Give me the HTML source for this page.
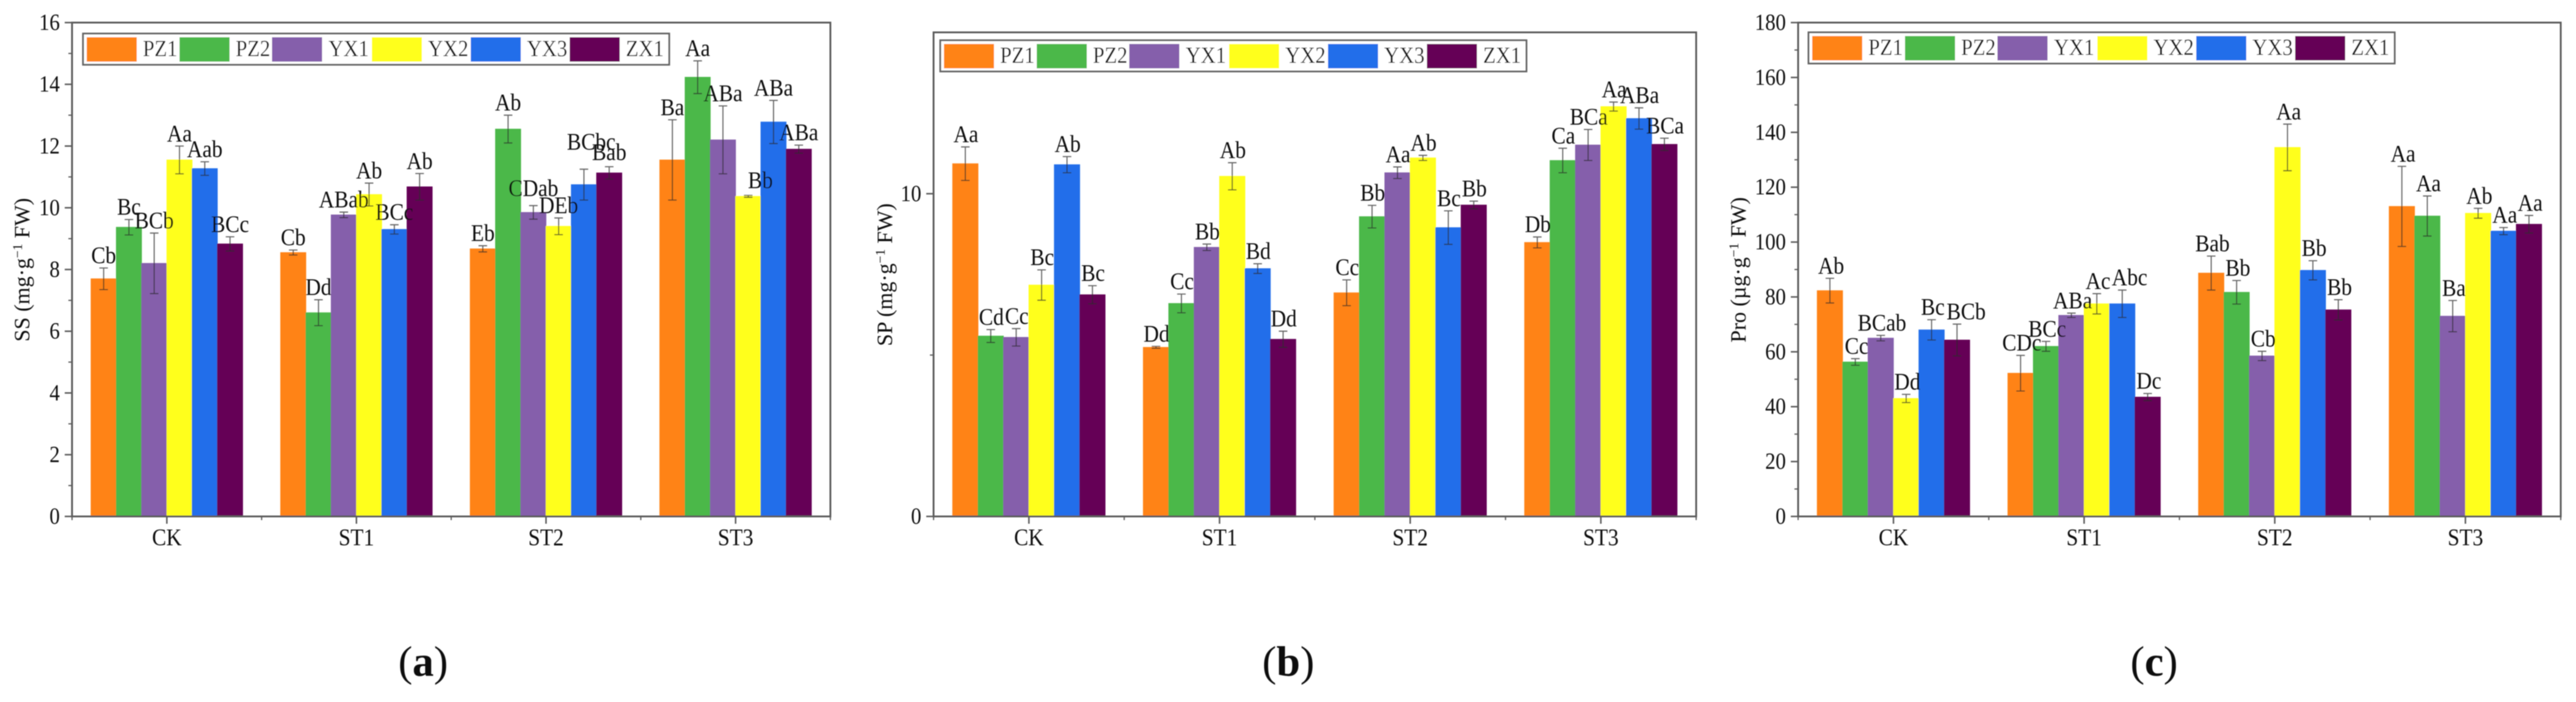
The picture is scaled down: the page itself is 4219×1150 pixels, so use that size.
<!DOCTYPE html>
<html lang="en">
<head>
<meta charset="utf-8">
<title>SS, SP and Pro content bar charts</title>
<style>
html,body{margin:0;padding:0;background:#fff;}
svg{display:block;}
text{font-family:"Liberation Serif",serif;fill:#111;}
</style>
</head>
<body>
<svg id="figure" xmlns="http://www.w3.org/2000/svg" width="4219" height="1150" viewBox="0 0 4219 1150">
<defs><filter id="soft" x="-2%" y="-2%" width="104%" height="104%"><feGaussianBlur stdDeviation="0.7"/></filter></defs>
<rect x="0" y="0" width="4219" height="1150" fill="#fff"/>
<g id="root" filter="url(#soft)"></g>
</svg>
<script>
const categories = ["CK", "ST1", "ST2", "ST3"];
const seriesNames = ["PZ1", "PZ2", "YX1", "YX2", "YX3", "ZX1"];
const seriesColors = ["#ff8315", "#4bb84a", "#855fab", "#ffff1a", "#246eea", "#650057"];

const ssTicks = [0, 2, 4, 6, 8, 10, 12, 14, 16];
const ssMinorTicks = [1, 3, 5, 7, 9, 11, 13, 15];
const ssMax = 16;
const ssPZ1 = [7.7, 8.55, 8.67, 11.55];
const ssPZ2 = [9.37, 6.6, 12.55, 14.23];
const ssYX1 = [8.2, 9.77, 9.85, 12.2];
const ssYX2 = [11.55, 10.43, 9.4, 10.37];
const ssYX3 = [11.27, 9.3, 10.75, 12.78];
const ssZX1 = [8.83, 10.68, 11.13, 11.9];
const ssErrPZ1 = [0.35, 0.08, 0.1, 1.3];
const ssErrPZ2 = [0.25, 0.42, 0.45, 0.53];
const ssErrYX1 = [0.98, 0.09, 0.22, 1.1];
const ssErrYX2 = [0.45, 0.37, 0.27, 0.03];
const ssErrYX3 = [0.22, 0.15, 0.5, 0.7];
const ssErrZX1 = [0.23, 0.43, 0.2, 0.13];
const ssLabPZ1 = ["Cb", "Cb", "Eb", "Ba"];
const ssLabPZ2 = ["Bc", "Dd", "Ab", "Aa"];
const ssLabYX1 = ["BCb", "ABab", "CDab", "ABa"];
const ssLabYX2 = ["Aa", "Ab", "DEb", "Bb"];
const ssLabYX3 = ["Aab", "BCc", "BCbc", "ABa"];
const ssLabZX1 = ["BCc", "Ab", "Bab", "ABa"];

const spTicks = [0, 10];
const spMinorTicks = [5];
const spMax = 15;
const spPZ1 = [10.93, 5.24, 6.93, 8.49];
const spPZ2 = [5.59, 6.6, 9.29, 11.03];
const spYX1 = [5.55, 8.34, 10.65, 11.51];
const spYX2 = [7.17, 10.54, 11.11, 12.7];
const spYX3 = [10.9, 7.68, 8.95, 12.33];
const spZX1 = [6.87, 5.49, 9.65, 11.53];
const spErrPZ1 = [0.52, 0.03, 0.4, 0.17];
const spErrPZ2 = [0.2, 0.29, 0.35, 0.38];
const spErrYX1 = [0.27, 0.1, 0.18, 0.48];
const spErrYX2 = [0.47, 0.42, 0.08, 0.14];
const spErrYX3 = [0.25, 0.15, 0.52, 0.33];
const spErrZX1 = [0.28, 0.25, 0.12, 0.19];
const spLabPZ1 = ["Aa", "Dd", "Cc", "Db"];
const spLabPZ2 = ["Cd", "Cc", "Bb", "Ca"];
const spLabYX1 = ["Cc", "Bb", "Aa", "BCa"];
const spLabYX2 = ["Bc", "Ab", "Ab", "Aa"];
const spLabYX3 = ["Ab", "Bd", "Bc", "ABa"];
const spLabZX1 = ["Bc", "Dd", "Bb", "BCa"];

const proTicks = [0, 20, 40, 60, 80, 100, 120, 140, 160, 180];
const proMinorTicks = [10, 30, 50, 70, 90, 110, 130, 150, 170];
const proMax = 180;
const proPZ1 = [82.3, 52.2, 88.7, 113];
const proPZ2 = [56.3, 62, 81.7, 109.5];
const proYX1 = [65, 73.3, 58.5, 73];
const proYX2 = [43, 77.5, 134.5, 110.5];
const proYX3 = [68, 77.5, 89.7, 104];
const proZX1 = [64.3, 43.5, 75.3, 106.5];
const proErrPZ1 = [4.5, 6.5, 6.2, 14.6];
const proErrPZ2 = [1.2, 1.8, 4.3, 7.3];
const proErrYX1 = [1, 0.8, 1.7, 5.7];
const proErrYX2 = [1.5, 3.7, 8.5, 1.8];
const proErrYX3 = [3.7, 5, 3.5, 1.3];
const proErrZX1 = [5.8, 1.3, 3.7, 3.2];
const proLabPZ1 = ["Ab", "CDc", "Bab", "Aa"];
const proLabPZ2 = ["Cc", "BCc", "Bb", "Aa"];
const proLabYX1 = ["BCab", "ABa", "Cb", "Ba"];
const proLabYX2 = ["Dd", "Ac", "Aa", "Ab"];
const proLabYX3 = ["Bc", "Abc", "Bb", "Aa"];
const proLabZX1 = ["BCb", "Dc", "Bb", "Aa"];

const SVGNS = "http://www.w3.org/2000/svg";
const root = document.getElementById("root");
function mk(tag, attrs, parent) {
  const el = document.createElementNS(SVGNS, tag);
  for (const k in attrs) el.setAttribute(k, attrs[k]);
  parent.appendChild(el);
  return el;
}
function tall(x, y) { return "translate(" + x + "," + y + ") scale(1,1.12)"; }
function legendEntryX(i) { return [6, 158, 309.5, 473, 635, 797][i]; }
function legendTextX(i) { return [98, 250, 402, 565, 727, 889][i]; }

function drawChart(cfg) {
  const g = mk("g", {}, root);
  
  
  const catW = (cfg.right - cfg.left) / categories.length;
  const barW = catW * 0.8 / seriesNames.length;
  const xCat = i => cfg.left + catW * (i + 0.5);
  const yVal = v => cfg.bottom - (cfg.bottom - cfg.top) * v / cfg.max;

  const axisColor = "#5c5c5c";
  const bars = mk("g", {}, g);
  
  
  const labels = mk("g", {}, g);
  
  

  cfg.means.forEach((vals, s) => {
    vals.forEach((v, c) => {
      const x = xCat(c) - catW * 0.4 + s * barW;
      const top = yVal(v);
      const bar = mk("rect", {x: x, y: top, width: barW, height: cfg.bottom - top,
        fill: seriesColors[s], stroke: seriesColors[s], "stroke-width": 1}, bars);
      
      
    });
  });
  cfg.means.forEach((vals, s) => {
    vals.forEach((v, c) => {
      const x = xCat(c) - catW * 0.4 + s * barW + barW / 2;
      const e = cfg.errs[s][c];
      const hi = yVal(v + e), lo = yVal(v - e);
      const err = mk("path", {d: "M" + x + " " + hi + "V" + lo + "M" + (x - 7) + " " + hi + "H" + (x + 7) + "M" + (x - 7) + " " + lo + "H" + (x + 7),
        fill: "none", stroke: "#2a2a2a", "stroke-opacity": 0.72, "stroke-width": 1.8}, bars);
      
      
      const nudge = (cfg.nudges[s + "-" + c]) || [0, 0];
      const lab = mk("text", {transform: tall(x + cfg.labelDx + nudge[0], hi - 8 + nudge[1]), "text-anchor": "middle", "font-size": 35}, labels);
      lab.textContent = cfg.labs[s][c];
      
      
    });
  });

  const frame = mk("rect", {x: cfg.left, y: cfg.top, width: cfg.right - cfg.left, height: cfg.bottom - cfg.top,
    fill: "none", stroke: axisColor, "stroke-width": 3}, g);
  
  

  const yAxis = mk("g", {}, g);
  
  
  cfg.ticks.forEach(t => {
    const y = yVal(t);
    const tick = mk("line", {x1: cfg.left - 12, x2: cfg.left, y1: y, y2: y, stroke: axisColor, "stroke-width": 2.5}, yAxis);
    
    
    const lab = mk("text", {transform: tall(cfg.left - 20, y + 12), "text-anchor": "end", "font-size": 34}, yAxis);
    lab.textContent = t;
    
    
  });
  cfg.minor.forEach(t => {
    const y = yVal(t);
    const tick = mk("line", {x1: cfg.left - 6, x2: cfg.left, y1: y, y2: y, stroke: axisColor, "stroke-width": 2}, yAxis);
    
    
  });

  const xAxis = mk("g", {}, g);
  
  
  categories.forEach((name, i) => {
    const x = xCat(i);
    const tick = mk("line", {x1: x, x2: x, y1: cfg.bottom, y2: cfg.bottom + 12, stroke: axisColor, "stroke-width": 2.5}, xAxis);
    
    
    const lab = mk("text", {transform: tall(x, 893), "text-anchor": "middle", "font-size": 35}, xAxis);
    lab.textContent = name;
    
    
  });
  for (let i = 0; i <= categories.length; i++) {
    const x = cfg.left + catW * i;
    const tick = mk("line", {x1: x, x2: x, y1: cfg.bottom, y2: cfg.bottom + 6, stroke: axisColor, "stroke-width": 2}, xAxis);
    
    
  }

  const title = mk("text", {"text-anchor": "middle", "font-size": 36,
    transform: "translate(" + cfg.titleX + "," + cfg.titleY + ") rotate(-90)"}, g);
  
  
  mk("tspan", {}, title).textContent = cfg.title + " (" + cfg.unit + "\u00b7g";
  mk("tspan", {dy: -12, "font-size": 22}, title).textContent = "\u22121";
  mk("tspan", {dy: 12}, title).textContent = " FW)";

  const leg = mk("g", {transform: "translate(" + cfg.legX + "," + cfg.legY + ")"}, g);
  
  
  const box = mk("rect", {x: 0, y: 0, width: 960, height: 51, fill: "#fff", stroke: "#666", "stroke-width": 3}, leg);
  
  
  seriesNames.forEach((name, i) => {
    const sw = mk("rect", {x: legendEntryX(i), y: 6, width: 82, height: 40, fill: seriesColors[i]}, leg);
    
    
    const tx = mk("text", {transform: tall(legendTextX(i), 37), "font-size": 34}, leg);
    tx.textContent = name;
    
    
  });

  const pan = mk("text", {x: cfg.panelX, y: 1107, "text-anchor": "middle", "font-size": 70}, g);
  
  
  mk("tspan", {}, pan).textContent = "(";
  mk("tspan", {"font-weight": "bold"}, pan).textContent = cfg.panel;
  mk("tspan", {}, pan).textContent = ")";
}

drawChart({
  id: "ss", title: "SS", unit: "mg", left: 118, right: 1360, top: 37, bottom: 846, max: ssMax,
  ticks: ssTicks, minor: ssMinorTicks,
  means: [ssPZ1, ssPZ2, ssYX1, ssYX2, ssYX3, ssZX1],
  errs: [ssErrPZ1, ssErrPZ2, ssErrYX1, ssErrYX2, ssErrYX3, ssErrZX1],
  labs: [ssLabPZ1, ssLabPZ2, ssLabYX1, ssLabYX2, ssLabYX3, ssLabZX1],
  nudges: {"4-2": [12, -24], "3-3": [20, -4], "2-2": [0, -8], "5-2": [0, -3]},
  labelDx: 0, titleX: 48, titleY: 442, legX: 136, legY: 55, panelX: 693, panel: "a"
});
drawChart({
  id: "sp", title: "SP", unit: "mg", left: 1529, right: 2778, top: 53, bottom: 846, max: spMax,
  ticks: spTicks, minor: spMinorTicks,
  means: [spPZ1, spPZ2, spYX1, spYX2, spYX3, spZX1],
  errs: [spErrPZ1, spErrPZ2, spErrYX1, spErrYX2, spErrYX3, spErrZX1],
  labs: [spLabPZ1, spLabPZ2, spLabYX1, spLabYX2, spLabYX3, spLabZX1],
  nudges: {},
  labelDx: 1, titleX: 1461, titleY: 450, legX: 1540, legY: 66, panelX: 2110, panel: "b"
});
drawChart({
  id: "pro", title: "Pro", unit: "\u00b5g", left: 2945, right: 4194, top: 37, bottom: 846, max: proMax,
  ticks: proTicks, minor: proMinorTicks,
  means: [proPZ1, proPZ2, proYX1, proYX2, proYX3, proZX1],
  errs: [proErrPZ1, proErrPZ2, proErrYX1, proErrYX2, proErrYX3, proErrZX1],
  labs: [proLabPZ1, proLabPZ2, proLabYX1, proLabYX2, proLabYX3, proLabZX1],
  nudges: {"4-1": [10, 0], "5-0": [13, 0]},
  labelDx: 2, titleX: 2859, titleY: 442, legX: 2962, legY: 53, panelX: 3528, panel: "c"
});
</script>
</body>
</html>
